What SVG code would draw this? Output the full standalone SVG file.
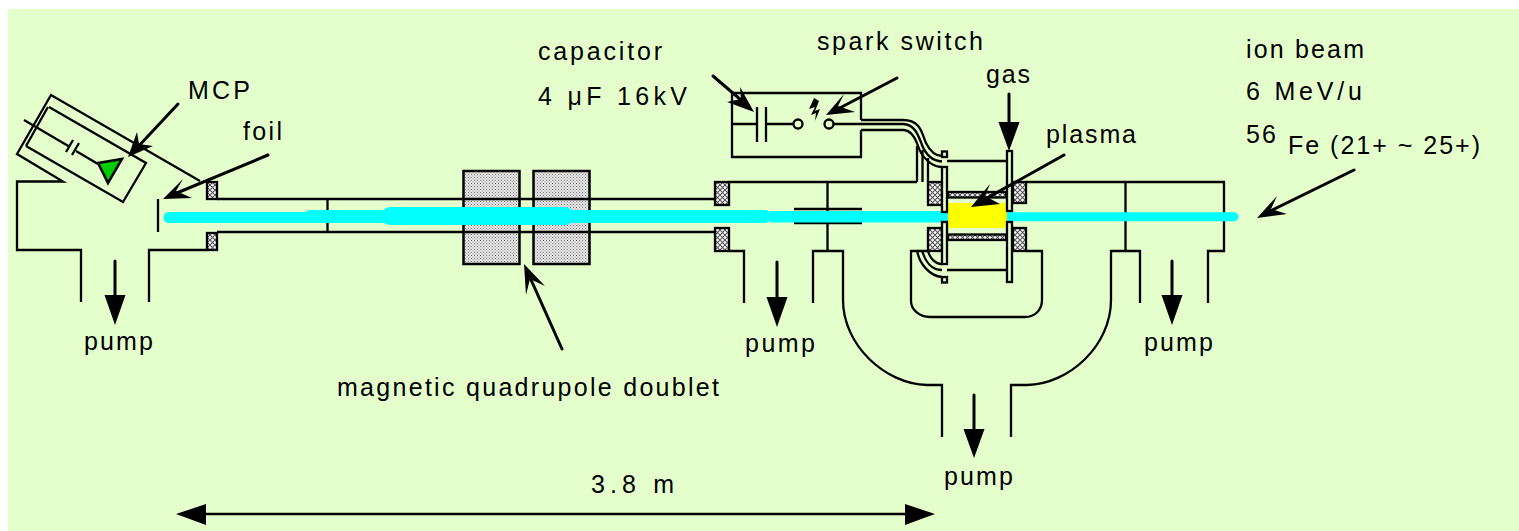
<svg xmlns="http://www.w3.org/2000/svg" width="1519" height="531" viewBox="0 0 1519 531">
<style>
.l{fill:none;stroke:#000;stroke-width:2.3;stroke-linejoin:miter}
.f{fill:#000;stroke:none}
.a{fill:none;stroke:#000;stroke-width:3;stroke-linecap:round}
.hx{fill:url(#cross);stroke:#000;stroke-width:2.3}
.q{fill:url(#dots);stroke:#000;stroke-width:2.5}
.p{fill:#E4FFCC;stroke:#000;stroke-width:2.3}
.b{stroke:#00FFFF;fill:none;stroke-linecap:round}
text{font-family:"Liberation Sans",Arial,sans-serif;font-size:25px;fill:#000;lengthAdjust:spacing}
</style>
<defs>
<pattern id="cross" width="5" height="5" patternUnits="userSpaceOnUse"><rect width="5" height="5" fill="#fff"/><path d="M0 0L5 5M5 0L0 5" stroke="#555" stroke-width="1.1"/></pattern>
<pattern id="dots" width="3" height="3" patternUnits="userSpaceOnUse"><rect width="3" height="3" fill="#e6e6e6"/><rect width="1" height="1" fill="#777"/><rect x="1.5" y="1.5" width="1" height="1" fill="#999"/></pattern>
</defs>
<rect x="8" y="9" width="1511" height="522" fill="#E4FFCC"/>

<g id="quadrupole">
<rect class="q" x="463.500" y="171" width="56" height="93"/>
<rect class="q" x="533.500" y="171" width="56" height="93"/>
</g>

<g id="mcp-chamber">
<path class="l" d="M200 181L51 95L17 154L63 181.500H17V250H81V302"/>
<path class="l" d="M149 302V250H207"/>
<path class="l" d="M49 107L146 163L123 202L26 146"/>
<path class="l" d="M48 107L26 146"/>
<path class="l" d="M24 120L70 147M76 151L98 164"/>
<path class="l" d="M66 152L73 140M72 155L79 143"/>
<path d="M98 163L122 159L108 183Z" fill="#00CC00" stroke="#000" stroke-width="2.5"/>
<path class="l" d="M158 199V232"/>
</g>

<g id="beamline">
<path class="l" d="M217 199H715M217 232H715"/>
<path class="l" d="M327.500 199V232"/>
<rect class="hx" x="207" y="182" width="10" height="17"/>
<rect class="hx" x="207" y="233" width="10" height="17"/>
<rect class="hx" x="715" y="182" width="14" height="23"/>
<rect class="hx" x="715" y="228" width="14" height="23"/>
<path class="l" d="M729 182H917M729 251H744V303"/>
<path class="l" d="M827.500 182V251M794 209H862M794 223H862"/>
<path class="l" d="M813 303V251H843V300C843 345 885 384 927 385H942V437"/>
<path class="l" d="M1011 437V385H1027C1070 384 1111 345 1111 300V251H1140V303"/>
<path class="l" d="M1125.500 182V251"/>
<path class="l" d="M1026 182H1224V251H1208V303"/>
</g>

<g id="capacitor-box">
<path class="l" d="M861 120V93H732V157H861V130"/>
<path class="l" d="M757 107V142M766 107V142"/>
<path class="l" d="M732 124H757M766 124H794"/>
<circle class="l" cx="798" cy="124" r="4.500"/>
<circle class="l" cx="829" cy="124" r="4.500"/>
<path d="M814 98L809 109L815 107L811 115L816 113L815 121L820 109L815 111L819 101Z" class="f"/>
</g>

<g id="feed-lines">
<path class="l" d="M861 120H903C921 120 922 134 926 143C930 151 935 156 942 156"/>
<path class="l" d="M834 124H903C915 124 919 137 922 145C926 155 933 161 942 161.500"/>
<path class="l" d="M861 130H903C912 130 916 140 918 146C922 158 932 167 942 167"/>
<path class="l" d="M917 146V182M922.500 150V182M928 158V182"/>
<path class="l" d="M917 250C919 264 930 276 942 277M922 250C925 262 932 270 942 270M928 251C930 258 935 264 942 264"/>
<path class="l" d="M927 251H911V301C911 310 920 317 930 317H1025C1035 317 1042 310 1042 300V251H1026"/>
<path class="l" d="M947 161H1007M947 270H1007"/>
</g>

<g id="beam">
<path class="b" stroke-width="11" d="M169 217.500H310"/>
<path class="b" stroke-width="13" d="M310 216.500H765"/>
<path class="b" stroke-width="18" d="M390 216H565" opacity="1"/>
<path class="b" stroke-width="11.500" d="M770 216.800H948" style="stroke-linecap:butt"/>
<path class="b" stroke-width="9" d="M1007 216.800H1234"/>
</g>

<g id="plasma-chamber">
<rect class="hx" x="948" y="192" width="58" height="5.500"/>
<rect class="hx" x="948" y="234.500" width="58" height="5.500"/>
<rect x="948" y="203" width="59" height="25" fill="#FFFF00"/>
<rect class="hx" x="928" y="182" width="14" height="23"/>
<rect class="hx" x="928" y="228" width="14" height="23"/>
<rect class="hx" x="1013" y="182" width="13" height="21"/>
<rect class="hx" x="1013" y="228" width="13" height="23"/>
<rect class="p" x="942" y="167" width="5" height="45"/>
<rect class="p" x="942" y="222" width="5" height="42"/>
<rect class="p" x="942" y="151.500" width="5" height="5.500"/>
<rect class="p" x="942" y="277" width="5" height="5.500"/>
<rect class="p" x="1007" y="151" width="5" height="60"/>
<rect class="p" x="1007" y="222" width="5" height="60"/>
</g>

<g id="connectors">
<path class="a" d="M178 104L135 150"/><path class="f" d="M128 157L137 132L139 144L153 146Z"/>
<path class="a" d="M268 155L172 195"/><path class="f" d="M163 199L183 179L176 191L192 198Z"/>
<path class="a" d="M713 76L748 106"/><path class="f" d="M754 112L740 87L741 99L727 102Z"/>
<path class="a" d="M897 78L834 111"/><path class="f" d="M826 115L844 94L838 106L855 112Z"/>
<path class="a" d="M1064 155L980 202"/><path class="f" d="M971 207L990 184L985 196L1000 204Z"/>
<path class="a" d="M1354 170L1266 213"/><path class="f" d="M1257 218L1277 196L1271 209L1287 214Z"/>
<path class="a" d="M562 349L528 273"/><path class="f" d="M524 264L526 295L530 279L545 286Z"/>
<path class="a" d="M115 261V296"/><path class="f" d="M104.500 295H125.500L115 325Z"/>
<path class="a" d="M777 262V297"/><path class="f" d="M766.500 297H787.500L777 327Z"/>
<path class="a" d="M1172 261V296"/><path class="f" d="M1161.500 295H1182.500L1172 325Z"/>
<path class="a" d="M974 395V430"/><path class="f" d="M963.500 429H984.500L974 458Z"/>
<path class="a" d="M1009 94V123"/><path class="f" d="M998.500 122H1019.500L1009 151Z"/>
<path class="l" d="M206 514H905" style="stroke-width:2.500"/>
<path class="f" d="M176 514L206 504V525ZM935 514L905 504V525Z"/>
</g>

<g id="labels">
<text x="538" y="60" textLength="124">capacitor</text>
<text x="538" y="105" textLength="149">4 μF  16kV</text>
<text x="817" y="50" textLength="166">spark switch</text>
<text x="986" y="83" textLength="44">gas</text>
<text x="1046" y="143" textLength="90">plasma</text>
<text x="1246" y="58" textLength="118">ion beam</text>
<text x="1246" y="100" textLength="116">6 MeV/u</text>
<text x="1246" y="143" textLength="30">56</text>
<text x="1288" y="154" textLength="192">Fe (21+ ~ 25+)</text>
<text x="188" y="99" textLength="62">MCP</text>
<text x="243" y="140" textLength="39">foil</text>
<text x="84" y="350" textLength="69">pump</text>
<text x="745" y="352" textLength="70">pump</text>
<text x="1144" y="351" textLength="69">pump</text>
<text x="944" y="485" textLength="69">pump</text>
<text x="337" y="396" textLength="382">magnetic quadrupole doublet</text>
<text x="591" y="493" textLength="83">3.8  m</text>
</g>
</svg>
